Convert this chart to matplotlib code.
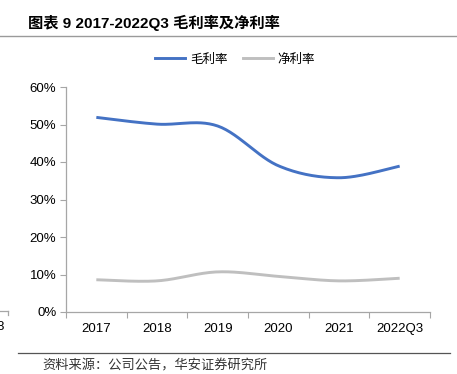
import numpy as np
import matplotlib
matplotlib.use("Agg")
import matplotlib.pyplot as plt
from matplotlib.lines import Line2D

plt.rcParams['font.family'] = ['Liberation Sans', 'Noto Sans CJK SC', 'DejaVu Sans']

categories = ["2017", "2018", "2019", "2020", "2021", "2022Q3"]
gross_margin = [51.9, 50.1, 49.6, 39.0, 35.8, 38.9]
net_margin = [8.6, 8.3, 10.7, 9.5, 8.3, 9.0]
series_names = ["毛利率", "净利率"]
colors = ["#4472C4", "#BFBFBF"]
title = "图表 9 2017-2022Q3 毛利率及净利率"
source = "资料来源：公司公告，华安证券研究所"


def smooth(xs, ys, n=30):
    xs = np.asarray(xs, float)
    ys = np.asarray(ys, float)
    px, py = [], []
    m = len(xs)
    for i in range(m - 1):
        x0, y0 = xs[max(i - 1, 0)], ys[max(i - 1, 0)]
        x1, y1 = xs[i], ys[i]
        x2, y2 = xs[i + 1], ys[i + 1]
        x3, y3 = xs[min(i + 2, m - 1)], ys[min(i + 2, m - 1)]
        c1 = (x1 + (x2 - x0) / 6, y1 + (y2 - y0) / 6)
        c2 = (x2 - (x3 - x1) / 6, y2 - (y3 - y1) / 6)
        t = np.linspace(0, 1, n)
        bx = (1 - t) ** 3 * x1 + 3 * (1 - t) ** 2 * t * c1[0] + 3 * (1 - t) * t ** 2 * c2[0] + t ** 3 * x2
        by = (1 - t) ** 3 * y1 + 3 * (1 - t) ** 2 * t * c1[1] + 3 * (1 - t) * t ** 2 * c2[1] + t ** 3 * y2
        px.extend(bx)
        py.extend(by)
    return np.array(px), np.array(py)


fig = plt.figure(figsize=(4.57, 3.74), dpi=100)
ax = fig.add_axes([66 / 457, 1 - 312 / 374, (430 - 66) / 457, (312 - 87) / 374])

x = np.arange(len(categories))
for vals, c in zip([gross_margin, net_margin], colors):
    sx, sy = smooth(x, vals)
    ax.plot(sx, sy, color=c, lw=2.1, solid_capstyle='butt')

ax.set_xlim(-0.5, len(categories) - 0.5)
ax.set_ylim(0, 60)
ax.set_yticks(np.arange(0, 61, 10))
ax.set_yticklabels([f"{v}%" for v in range(0, 61, 10)], fontsize=9.5)
ax.set_xticks(x)
ax.set_xticklabels(categories, fontsize=9.5)
ax.set_xticks(np.arange(-0.5, len(categories)), minor=True)
ax.tick_params(axis='x', which='major', length=0, pad=8)
ax.tick_params(axis='x', which='minor', length=4, color='#A6A6A6', width=0.8)
ax.tick_params(axis='y', length=4, color='#A6A6A6', width=0.8, pad=3)
for s in ['top', 'right']:
    ax.spines[s].set_visible(False)
for s in ['left', 'bottom']:
    ax.spines[s].set_color('#A6A6A6')
    ax.spines[s].set_linewidth(0.9)

handles = [Line2D([0], [0], color=c, lw=2.1) for c in colors]
fig.legend(handles, series_names, loc='center', bbox_to_anchor=(235 / 457, 1 - 59 / 374),
           ncol=2, frameon=False, handlelength=2.4, columnspacing=1.2,
           handletextpad=0.4, prop={'family': ['Noto Sans CJK SC'], 'size': 9})

fig.text(28 / 457, 1 - 23 / 374, title, fontsize=11, fontweight='bold', va='center', ha='left',
         family=['Liberation Sans', 'Noto Sans CJK SC'])
fig.add_artist(Line2D([0, 1], [1 - 36 / 374] * 2, color='#9A9A9A', lw=1.0))
fig.add_artist(Line2D([18 / 457, 450 / 457], [1 - 353 / 374] * 2, color='#555555', lw=0.9))
fig.text(42 / 457, 1 - 366 / 374, source, fontsize=9.5, va='center', ha='left', color='#333333',
         family=['Noto Sans CJK SC'])
# cropped neighbour remnants at left edge
fig.add_artist(Line2D([0, 8 / 457], [1 - 311 / 374] * 2, color='#A6A6A6', lw=0.9))
fig.add_artist(Line2D([8 / 457, 8 / 457], [1 - 311 / 374, 1 - 315 / 374], color='#A6A6A6', lw=0.9))
fig.text(-4 / 457, 1 - 327 / 374, "8", fontsize=9.5, va='center', ha='left')

fig.savefig("out.png", dpi=100)
